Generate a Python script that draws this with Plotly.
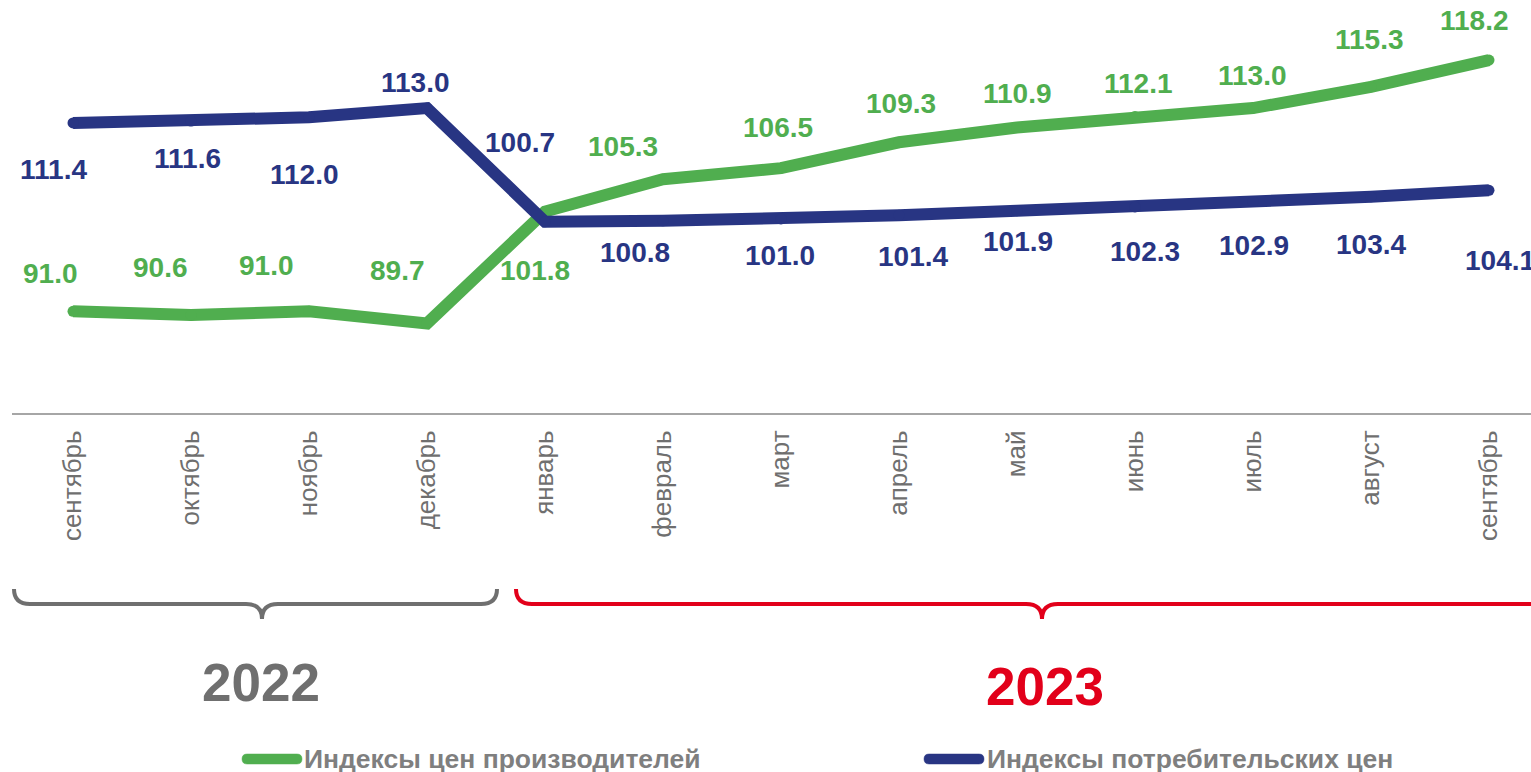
import plotly.graph_objects as go

months = ["сентябрь", "октябрь", "ноябрь", "декабрь", "январь", "февраль", "март",
          "апрель", "май", "июнь", "июль", "август", "сентябрь"]
producer = [91.0, 90.6, 91.0, 89.7, 101.8, 105.3, 106.5, 109.3, 110.9, 112.1, 113.0, 115.3, 118.2]
consumer = [111.4, 111.6, 112.0, 113.0, 100.7, 100.8, 101.0, 101.4, 101.9, 102.3, 102.9, 103.4, 104.1]
series_names = ["Индексы цен производителей", "Индексы потребительских цен"]
years = ["2022", "2023"]

# label offsets (style, pixels)
prod_dx = [-23, -31, -43, -30, -10, -40, -3, 2, 0, 3, 0, -1, -14]
prod_dy = [38, 48, 46, 53, -59, 33, 41, 39, 34, 33, 33, 47, 40]
cons_dx = [-20, -4, -5, -12, -25, -28, -1, 14, 1, 10, 1, 0, 11]
cons_dy = [-47, -37, -57, 26, 79, -32, -37, -41, -31, -45, -44, -48, -70]

GREEN = "#50ae4f"
BLUE = "#283583"
GRAY = "#6f6f6f"
RED = "#e2001a"
FONT = "Liberation Sans, Arial, sans-serif"

W, H = 1531, 772
ML, MB = 12, 359
PW, PH = W - ML, H - MB

xs = list(range(len(months)))

fig = go.Figure()
for vals, col, name in [(producer, GREEN, series_names[0]), (consumer, BLUE, series_names[1])]:
    fig.add_trace(go.Scatter(x=xs, y=vals, mode="lines+markers", name=name,
                             line=dict(color=col, width=12),
                             marker=dict(color=col, size=11),
                             showlegend=False, hoverinfo="skip"))

ann = []
for vals, dx, dy, col in [(producer, prod_dx, prod_dy, GREEN), (consumer, cons_dx, cons_dy, BLUE)]:
    for i, v in enumerate(vals):
        ann.append(dict(x=i, y=v, xref="x", yref="y", text=f"{v:.1f}", showarrow=False,
                        xshift=dx[i], yshift=dy[i], xanchor="center", yanchor="middle",
                        font=dict(family=FONT, size=28, color=col, weight="bold")))

def px(x):
    return (x - ML) / PW

def py(y):
    return (PH - y) / PH

def brace(x0, x1, xc, ytop, ymid, ybot, r=16):
    pts = [
        f"M {px(x0)},{py(ytop)}",
        f"Q {px(x0)},{py(ymid)} {px(x0 + r)},{py(ymid)}",
        f"L {px(xc - r)},{py(ymid)}",
        f"Q {px(xc)},{py(ymid)} {px(xc)},{py(ybot)}",
        f"Q {px(xc)},{py(ymid)} {px(xc + r)},{py(ymid)}",
        f"L {px(x1 - r)},{py(ymid)}",
        f"Q {px(x1)},{py(ymid)} {px(x1)},{py(ytop)}",
    ]
    return " ".join(pts)

def pill(x0, x1, yc, h, col):
    r = h / 2
    path = (f"M {px(x0 + r)},{py(yc - r)} L {px(x1 - r)},{py(yc - r)} "
            f"Q {px(x1)},{py(yc - r)} {px(x1)},{py(yc)} Q {px(x1)},{py(yc + r)} {px(x1 - r)},{py(yc + r)} "
            f"L {px(x0 + r)},{py(yc + r)} Q {px(x0)},{py(yc + r)} {px(x0)},{py(yc)} "
            f"Q {px(x0)},{py(yc - r)} {px(x0 + r)},{py(yc - r)} Z")
    return dict(type="path", xref="paper", yref="paper", path=path,
                fillcolor=col, line=dict(color=col, width=0.5))

shapes = [
    dict(type="path", xref="paper", yref="paper", path=brace(14, 497, 262, 589, 604, 619),
         line=dict(color=GRAY, width=4)),
    dict(type="path", xref="paper", yref="paper", path=brace(516, 1568, 1042, 589, 604, 619),
         line=dict(color=RED, width=4)),
    pill(242, 302, 759, 10, GREEN),
    pill(924, 984, 759, 10, BLUE),
]

ann += [
    dict(x=px(261), y=py(682), xref="paper", yref="paper", text=years[0], showarrow=False,
         xanchor="center", yanchor="middle",
         font=dict(family=FONT, size=53, color=GRAY, weight="bold")),
    dict(x=px(1045), y=py(686), xref="paper", yref="paper", text=years[1], showarrow=False,
         xanchor="center", yanchor="middle",
         font=dict(family=FONT, size=53, color=RED, weight="bold")),
    dict(x=px(302), y=py(759), xref="paper", yref="paper", text=series_names[0], showarrow=False,
         xanchor="left", yanchor="middle",
         font=dict(family=FONT, size=26.5, color="#7f7f7f", weight="bold")),
    dict(x=px(985), y=py(759), xref="paper", yref="paper", text=series_names[1], showarrow=False,
         xanchor="left", yanchor="middle",
         font=dict(family=FONT, size=26.5, color="#7f7f7f", weight="bold")),
]

fig.update_layout(
    width=W, height=H,
    margin=dict(l=ML, r=0, t=0, b=MB),
    plot_bgcolor="white", paper_bgcolor="white",
    xaxis=dict(range=[-0.517, 12.356], tickmode="array", tickvals=xs, ticktext=months,
               tickangle=-90, showgrid=False, zeroline=False, showline=True,
               linecolor="#a6a6a6", linewidth=2, ticks="", ticklabelstandoff=5,
               tickfont=dict(family=FONT, size=26, color=GRAY)),
    yaxis=dict(range=[80.0, 124.7], visible=False, showgrid=False, zeroline=False),
    annotations=ann, shapes=shapes,
)

fig.write_html("out.html", config={"displayModeBar": False},
               post_script="document.body.style.margin='0';document.body.style.overflow='hidden';")
